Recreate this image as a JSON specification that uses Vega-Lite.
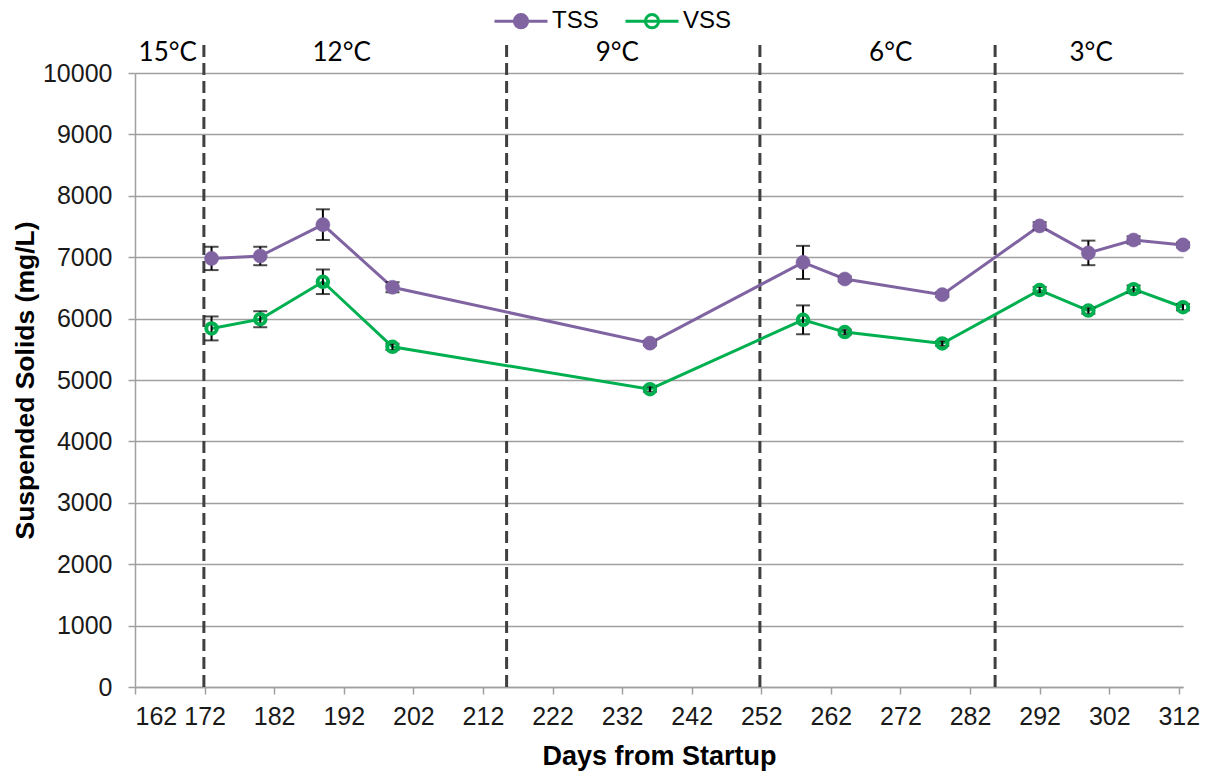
{
  "$schema": "https://vega.github.io/schema/vega-lite/v6.json",
  "width": 1048,
  "height": 614,
  "autosize": "none",
  "padding": {"left": 135, "top": 73, "right": 24, "bottom": 89},
  "background": "white",
  "config": {
    "view": {"stroke": null},
    "axis": {
      "labelFont": "Liberation Sans",
      "labelFontSize": 25,
      "labelColor": "#1a1a1a",
      "titleFont": "Liberation Sans",
      "titleFontWeight": "bold",
      "titleColor": "#000000",
      "domainColor": "#a0a0a0",
      "domainWidth": 1.5,
      "tickColor": "#a0a0a0",
      "tickWidth": 1.5,
      "tickSize": 7,
      "gridColor": "#a0a0a0",
      "gridWidth": 1.5
    },
    "legend": {
      "title": null,
      "orient": "none",
      "direction": "horizontal",
      "legendX": 358,
      "legendY": -80,
      "symbolType": "M-1,0L1,0M0.25,0A0.25,0.25,0,1,1,-0.25,0A0.25,0.25,0,1,1,0.25,0Z",
      "symbolSize": 2809,
      "symbolStrokeWidth": 3,
      "labelFont": "Liberation Sans",
      "labelFontSize": 24,
      "labelColor": "#000000",
      "labelOffset": 3,
      "columnPadding": 20
    }
  },
  "datasets": {
    "solids": [
      {"day": 173, "series": "TSS", "value": 6980, "err": 190},
      {"day": 180, "series": "TSS", "value": 7020, "err": 150},
      {"day": 189, "series": "TSS", "value": 7530, "err": 250},
      {"day": 199, "series": "TSS", "value": 6510, "err": 80},
      {"day": 236, "series": "TSS", "value": 5600, "err": 40},
      {"day": 258, "series": "TSS", "value": 6915, "err": 270},
      {"day": 264, "series": "TSS", "value": 6645, "err": 40},
      {"day": 278, "series": "TSS", "value": 6390, "err": 40},
      {"day": 292, "series": "TSS", "value": 7510, "err": 60},
      {"day": 299, "series": "TSS", "value": 7070, "err": 200},
      {"day": 305.5, "series": "TSS", "value": 7280, "err": 60},
      {"day": 312.6, "series": "TSS", "value": 7200, "err": 40},
      {"day": 173, "series": "VSS", "value": 5840, "err": 195},
      {"day": 180, "series": "VSS", "value": 5990, "err": 130},
      {"day": 189, "series": "VSS", "value": 6600, "err": 200},
      {"day": 199, "series": "VSS", "value": 5540, "err": 50},
      {"day": 236, "series": "VSS", "value": 4850, "err": 40},
      {"day": 258, "series": "VSS", "value": 5980, "err": 235},
      {"day": 264, "series": "VSS", "value": 5780, "err": 40},
      {"day": 278, "series": "VSS", "value": 5595, "err": 40},
      {"day": 292, "series": "VSS", "value": 6465, "err": 50},
      {"day": 299, "series": "VSS", "value": 6130, "err": 50},
      {"day": 305.5, "series": "VSS", "value": 6480, "err": 60},
      {"day": 312.6, "series": "VSS", "value": 6185, "err": 50}
    ],
    "phases": [
      {"day": 171.9},
      {"day": 215.4},
      {"day": 251.8},
      {"day": 285.6}
    ],
    "temps": [
      {"day": 166.7, "y": 10330, "label": "15°C"},
      {"day": 191.7, "y": 10330, "label": "12°C"},
      {"day": 231.3, "y": 10330, "label": "9°C"},
      {"day": 270.6, "y": 10330, "label": "6°C"},
      {"day": 299.4, "y": 10330, "label": "3°C"}
    ]
  },
  "layer": [
    {
      "data": {"name": "phases"},
      "mark": {"type": "rule", "color": "#404040", "strokeWidth": 3, "strokeDash": [12, 6], "clip": false},
      "encoding": {
        "x": {"field": "day", "type": "quantitative",
          "scale": {"domain": [162, 312.6], "nice": false, "zero": false},
          "axis": {"values": [162, 172, 182, 192, 202, 212, 222, 232, 242, 252, 262, 272, 282, 292, 302, 312],
            "title": "Days from Startup", "titleFontSize": 27, "grid": false, "labelPadding": 10, "titlePadding": 14}},
        "y": {"datum": 0, "type": "quantitative"},
        "y2": {"datum": 10520}
      }
    },
    {
      "data": {"name": "temps"},
      "mark": {"type": "text", "font": "Lato", "fontSize": 26, "color": "#000000", "baseline": "middle", "align": "center", "clip": false},
      "encoding": {
        "x": {"field": "day", "type": "quantitative"},
        "y": {"field": "y", "type": "quantitative"},
        "text": {"field": "label"}
      }
    },
    {
      "data": {"name": "solids"},
      "mark": {"type": "line", "strokeWidth": 3},
      "encoding": {
        "x": {"field": "day", "type": "quantitative"},
        "y": {"field": "value", "type": "quantitative", "title": "Suspended Solids (mg/L)",
          "scale": {"domain": [0, 10000], "nice": false},
          "axis": {"values": [0, 1000, 2000, 3000, 4000, 5000, 6000, 7000, 8000, 9000, 10000], "format": "d",
            "title": "Suspended Solids (mg/L)", "titleFontSize": 26.5, "grid": true, "labelPadding": 16, "titlePadding": 3}},
        "stroke": {"field": "series", "type": "nominal",
          "scale": {"domain": ["TSS", "VSS"], "range": ["#8064A2", "#00B050"]}}
      }
    },
    {
      "data": {"name": "solids"},
      "mark": {"type": "errorbar", "color": "#000000", "thickness": 2,
        "ticks": {"size": 14, "color": "#000000", "strokeWidth": 2},
        "rule": {"color": "#000000", "strokeWidth": 2}},
      "encoding": {
        "x": {"field": "day", "type": "quantitative"},
        "y": {"field": "value", "type": "quantitative", "title": "Suspended Solids (mg/L)"},
        "yError": {"field": "err"}
      }
    },
    {
      "data": {"name": "solids"},
      "transform": [{"filter": "datum.series === 'TSS'"}],
      "mark": {"type": "point", "filled": true, "size": 200, "opacity": 1, "fillOpacity": 1, "strokeWidth": 0.5, "shape": "circle"},
      "encoding": {
        "x": {"field": "day", "type": "quantitative"},
        "y": {"field": "value", "type": "quantitative", "title": "Suspended Solids (mg/L)"},
        "stroke": {"field": "series", "type": "nominal"},
        "fill": {"field": "series", "type": "nominal",
          "scale": {"domain": ["TSS", "VSS"], "range": ["#8064A2", "transparent"]}}
      }
    },
    {
      "data": {"name": "solids"},
      "transform": [{"filter": "datum.series === 'VSS'"}],
      "mark": {"type": "point", "filled": true, "size": 110, "strokeWidth": 4, "opacity": 1, "fillOpacity": 1, "shape": "circle"},
      "encoding": {
        "x": {"field": "day", "type": "quantitative"},
        "y": {"field": "value", "type": "quantitative", "title": "Suspended Solids (mg/L)"},
        "stroke": {"field": "series", "type": "nominal"},
        "fill": {"field": "series", "type": "nominal"}
      }
    }
  ]
}
